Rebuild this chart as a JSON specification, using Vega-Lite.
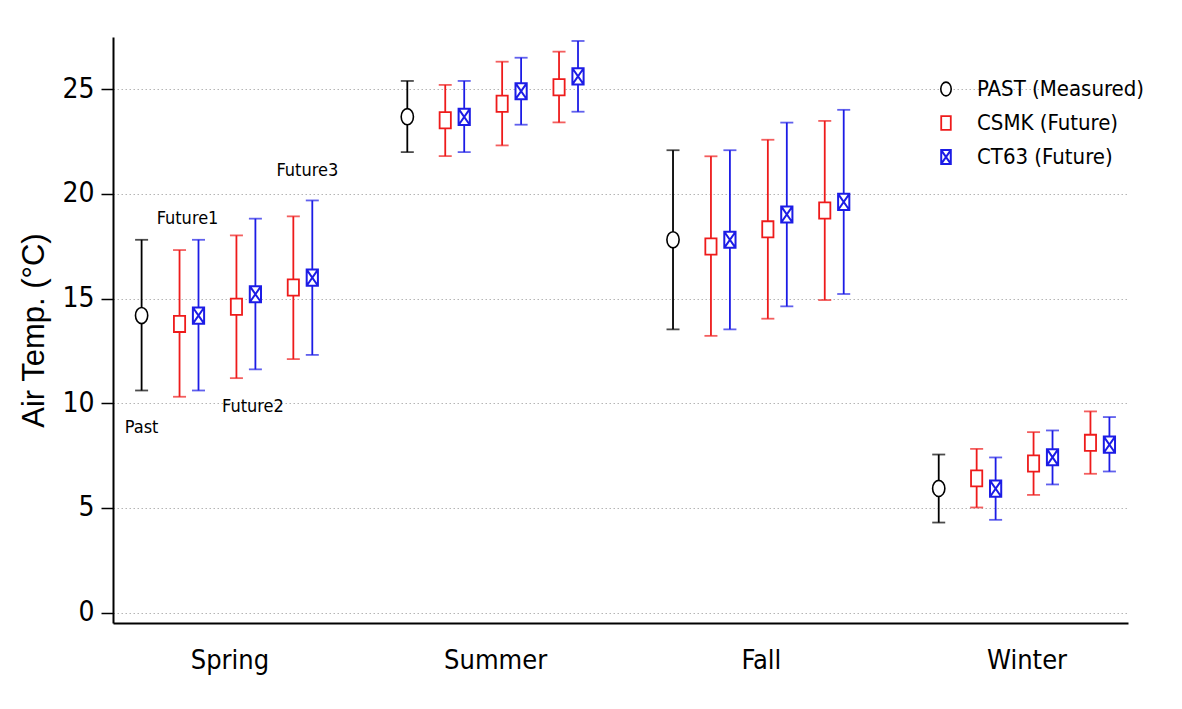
{
  "$schema": "https://vega.github.io/schema/vega-lite/v6.json",
  "width": 1015,
  "height": 586,
  "autosize": {"type": "none"},
  "padding": {"left": 113, "top": 37, "right": 54, "bottom": 86},
  "background": "white",
  "config": {"view": {"stroke": null}, "font": "DejaVu Sans Condensed, Liberation Sans, sans-serif"},
  "datasets": {
    "stats": [
      {"season": "Spring", "model": "PAST (Measured)", "slot": "Past", "mean": 14.19, "lo": 10.61, "hi": 17.81},
      {"season": "Spring", "model": "CSMK (Future)", "slot": "CSMK F1", "mean": 13.79, "lo": 10.31, "hi": 17.32},
      {"season": "Spring", "model": "CT63 (Future)", "slot": "CT63 F1", "mean": 14.19, "lo": 10.61, "hi": 17.81},
      {"season": "Spring", "model": "CSMK (Future)", "slot": "CSMK F2", "mean": 14.61, "lo": 11.20, "hi": 18.02},
      {"season": "Spring", "model": "CT63 (Future)", "slot": "CT63 F2", "mean": 15.21, "lo": 11.62, "hi": 18.82},
      {"season": "Spring", "model": "CSMK (Future)", "slot": "CSMK F3", "mean": 15.53, "lo": 12.11, "hi": 18.93},
      {"season": "Spring", "model": "CT63 (Future)", "slot": "CT63 F3", "mean": 16.00, "lo": 12.31, "hi": 19.69},
      {"season": "Summer", "model": "PAST (Measured)", "slot": "Past", "mean": 23.69, "lo": 22.00, "hi": 25.40},
      {"season": "Summer", "model": "CSMK (Future)", "slot": "CSMK F1", "mean": 23.52, "lo": 21.81, "hi": 25.21},
      {"season": "Summer", "model": "CT63 (Future)", "slot": "CT63 F1", "mean": 23.68, "lo": 22.00, "hi": 25.40},
      {"season": "Summer", "model": "CSMK (Future)", "slot": "CSMK F2", "mean": 24.31, "lo": 22.32, "hi": 26.32},
      {"season": "Summer", "model": "CT63 (Future)", "slot": "CT63 F2", "mean": 24.91, "lo": 23.31, "hi": 26.51},
      {"season": "Summer", "model": "CSMK (Future)", "slot": "CSMK F3", "mean": 25.10, "lo": 23.42, "hi": 26.80},
      {"season": "Summer", "model": "CT63 (Future)", "slot": "CT63 F3", "mean": 25.62, "lo": 23.93, "hi": 27.31},
      {"season": "Fall", "model": "PAST (Measured)", "slot": "Past", "mean": 17.81, "lo": 13.53, "hi": 22.09},
      {"season": "Fall", "model": "CSMK (Future)", "slot": "CSMK F1", "mean": 17.49, "lo": 13.22, "hi": 21.80},
      {"season": "Fall", "model": "CT63 (Future)", "slot": "CT63 F1", "mean": 17.81, "lo": 13.53, "hi": 22.09},
      {"season": "Fall", "model": "CSMK (Future)", "slot": "CSMK F2", "mean": 18.31, "lo": 14.04, "hi": 22.59},
      {"season": "Fall", "model": "CT63 (Future)", "slot": "CT63 F2", "mean": 19.02, "lo": 14.63, "hi": 23.41},
      {"season": "Fall", "model": "CSMK (Future)", "slot": "CSMK F3", "mean": 19.21, "lo": 14.93, "hi": 23.49},
      {"season": "Fall", "model": "CT63 (Future)", "slot": "CT63 F3", "mean": 19.62, "lo": 15.22, "hi": 24.02},
      {"season": "Winter", "model": "PAST (Measured)", "slot": "Past", "mean": 5.93, "lo": 4.30, "hi": 7.55},
      {"season": "Winter", "model": "CSMK (Future)", "slot": "CSMK F1", "mean": 6.41, "lo": 5.02, "hi": 7.82},
      {"season": "Winter", "model": "CT63 (Future)", "slot": "CT63 F1", "mean": 5.92, "lo": 4.43, "hi": 7.41},
      {"season": "Winter", "model": "CSMK (Future)", "slot": "CSMK F2", "mean": 7.12, "lo": 5.62, "hi": 8.62},
      {"season": "Winter", "model": "CT63 (Future)", "slot": "CT63 F2", "mean": 7.42, "lo": 6.12, "hi": 8.70},
      {"season": "Winter", "model": "CSMK (Future)", "slot": "CSMK F3", "mean": 8.11, "lo": 6.63, "hi": 9.61},
      {"season": "Winter", "model": "CT63 (Future)", "slot": "CT63 F3", "mean": 8.02, "lo": 6.74, "hi": 9.34}
    ],
    "notes": [
      {"season": "Spring", "slot": "Past", "note": "Past", "value": 8.81},
      {"season": "Spring", "slot": "CSMK F1", "note": "Future1", "value": 18.80},
      {"season": "Spring", "slot": "CSMK F2", "note": "Future2", "value": 9.83},
      {"season": "Spring", "slot": "CSMK F3", "note": "Future3", "value": 21.11}
    ]
  },
  "encoding": {
    "x": {
      "field": "season", "type": "nominal",
      "sort": ["Spring", "Summer", "Fall", "Winter"],
      "scale": {"domain": ["Spring", "Summer", "Fall", "Winter"], "paddingInner": 0.18, "paddingOuter": 0},
      "axis": {
        "title": null, "ticks": false, "grid": false,
        "domainColor": "black", "domainWidth": 2,
        "labelFont": "DejaVu Sans Condensed, Liberation Sans, sans-serif", "labelFontSize": 27, "labelColor": "black",
        "labelPadding": 24, "labelOffset": 8, "labelAngle": 0
      }
    },
    "xOffset": {
      "field": "slot", "type": "nominal",
      "scale": {
        "type": "point",
        "domain": ["Past", "gapA", "CSMK F1", "CT63 F1", "gapB", "CSMK F2", "CT63 F2", "gapC", "CSMK F3", "CT63 F3"],
        "range": [28.6, 199.3], "padding": 0
      }
    }
  },
  "layer": [
    {
      "data": {"name": "stats"},
      "mark": {"type": "rule", "strokeWidth": 1.8},
      "encoding": {
        "y": {
          "field": "lo", "type": "quantitative",
          "scale": {"domain": [-0.5, 27.5], "nice": false, "zero": false},
          "axis": {
            "title": "Air Temp. (°C)", "values": [0, 5, 10, 15, 20, 25],
            "grid": true, "gridDash": [1.5, 2.5], "gridColor": "#b5b5b5", "gridWidth": 1,
            "tickSize": 12, "tickColor": "black", "tickWidth": 1.5,
            "domainColor": "black", "domainWidth": 2,
            "labelFont": "DejaVu Sans Condensed, Liberation Sans, sans-serif", "labelFontSize": 28, "labelColor": "black", "labelPadding": 7,
            "titleFont": "Liberation Sans", "titleFontSize": 31, "titleFontWeight": "normal", "titleColor": "black",
            "titleX": -70, "titleY": 293, "titleAngle": -90, "titleBaseline": "alphabetic", "titleAlign": "center"
          }
        },
        "y2": {"field": "hi"},
        "stroke": {
          "field": "model", "type": "nominal",
          "scale": {"range": ["#ee1b1b", "#1c1ce6", "#000000"]},
          "legend": null
        }
      }
    },
    {
      "data": {"name": "stats"},
      "mark": {"type": "tick", "size": 13, "thickness": 1.8},
      "encoding": {
        "y": {"field": "lo", "type": "quantitative"},
        "fill": {"field": "model", "type": "nominal", "scale": {"range": ["#ee1b1b", "#1c1ce6", "#000000"]}, "legend": null}
      }
    },
    {
      "data": {"name": "stats"},
      "mark": {"type": "tick", "size": 13, "thickness": 1.8},
      "encoding": {
        "y": {"field": "hi", "type": "quantitative"},
        "fill": {"field": "model", "type": "nominal", "legend": null}
      }
    },
    {
      "data": {"name": "stats"},
      "mark": {"type": "point", "filled": false, "size": 289, "opacity": 1, "fill": "white", "fillOpacity": 1},
      "encoding": {
        "y": {"field": "mean", "type": "quantitative"},
        "color": {
          "field": "model", "type": "nominal",
          "scale": {"domain": ["PAST (Measured)", "CSMK (Future)", "CT63 (Future)"], "range": ["#000000", "#ee1b1b", "#1c1ce6"]},
          "legend": {
            "title": null, "orient": "none", "legendX": 822, "legendY": 41,
            "labelFont": "DejaVu Sans Condensed, Liberation Sans, sans-serif", "labelFontSize": 22, "labelColor": "black",
            "labelLimit": 400,
            "symbolSize": 210, "symbolFillColor": "white",
            "labelOffset": 20, "rowPadding": 12
          }
        },
        "shape": {
          "field": "model", "type": "nominal",
          "scale": {
            "domain": ["PAST (Measured)", "CSMK (Future)", "CT63 (Future)"],
            "range": [
              "M0,-0.95A0.72,0.95 0 1,1 0,0.95A0.72,0.95 0 1,1 0,-0.95Z",
              "M-0.66,-0.95H0.66V0.95H-0.66Z",
              "M-0.66,-0.95H0.66V0.95H-0.66Z M-0.66,-0.95L0.66,0.95 M0.66,-0.95L-0.66,0.95"
            ]
          }
        },
        "strokeWidth": {
          "field": "model", "type": "nominal",
          "scale": {"domain": ["PAST (Measured)", "CSMK (Future)", "CT63 (Future)"], "range": [1.6, 2, 3]}
        }
      }
    },
    {
      "data": {"name": "notes"},
      "transform": [{"filter": "datum.note === 'Past'"}],
      "mark": {"type": "text", "fontSize": 18, "font": "DejaVu Sans Condensed, Liberation Sans, sans-serif", "baseline": "middle", "align": "center", "color": "black", "dx": 0},
      "encoding": {"y": {"field": "value", "type": "quantitative"}, "text": {"field": "note"}}
    },
    {
      "data": {"name": "notes"},
      "transform": [{"filter": "datum.note === 'Future1'"}],
      "mark": {"type": "text", "fontSize": 18, "font": "DejaVu Sans Condensed, Liberation Sans, sans-serif", "baseline": "middle", "align": "center", "color": "black", "dx": 8},
      "encoding": {"y": {"field": "value", "type": "quantitative"}, "text": {"field": "note"}}
    },
    {
      "data": {"name": "notes"},
      "transform": [{"filter": "datum.note === 'Future2'"}],
      "mark": {"type": "text", "fontSize": 18, "font": "DejaVu Sans Condensed, Liberation Sans, sans-serif", "baseline": "middle", "align": "center", "color": "black", "dx": 16.5},
      "encoding": {"y": {"field": "value", "type": "quantitative"}, "text": {"field": "note"}}
    },
    {
      "data": {"name": "notes"},
      "transform": [{"filter": "datum.note === 'Future3'"}],
      "mark": {"type": "text", "fontSize": 18, "font": "DejaVu Sans Condensed, Liberation Sans, sans-serif", "baseline": "middle", "align": "center", "color": "black", "dx": 14},
      "encoding": {"y": {"field": "value", "type": "quantitative"}, "text": {"field": "note"}}
    }
  ]
}
